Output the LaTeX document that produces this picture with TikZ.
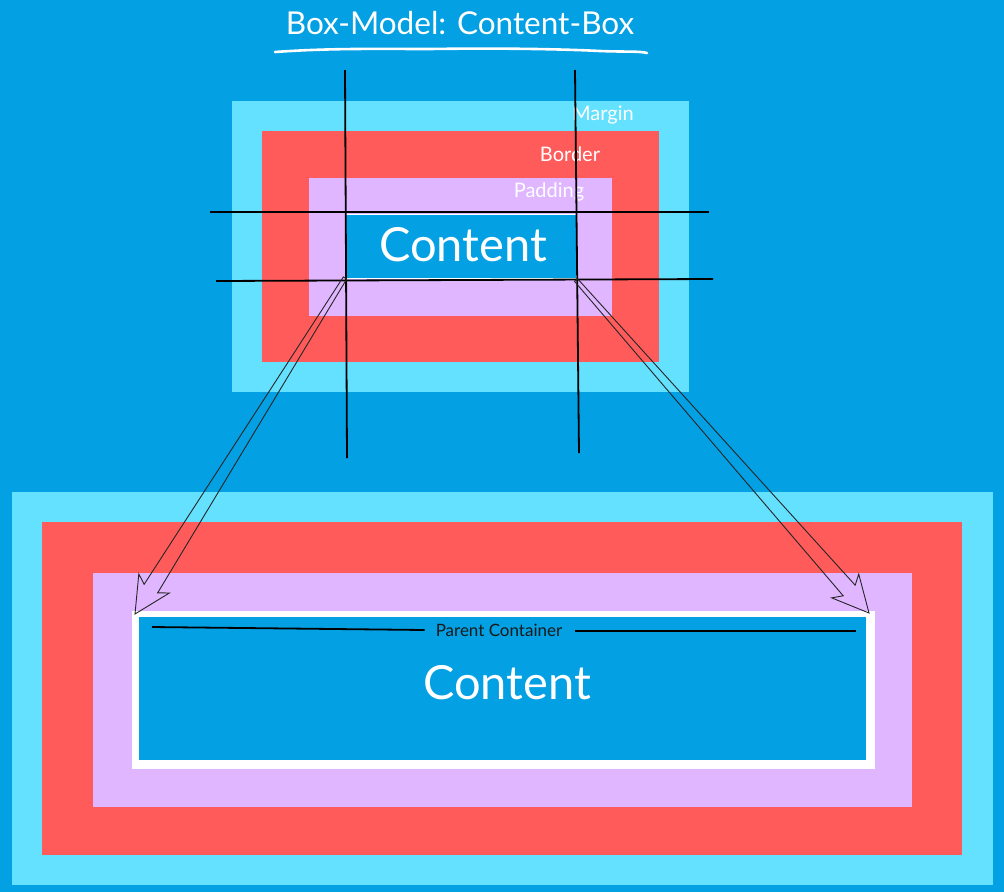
\documentclass[tikz,border=0pt]{standalone}
\usepackage{fontspec}
\setmainfont{Lato}
\usetikzlibrary{calc}
\definecolor{bgblue}{RGB}{3,160,227}
\definecolor{mcyan}{RGB}{99,225,255}
\definecolor{bred}{RGB}{255,91,91}
\definecolor{plav}{RGB}{223,182,255}
\tikzset{
  box/.style={anchor=north west,inner sep=0pt,outer sep=0pt,draw=none},
  hand/.style={draw=black,line width=1.8pt},
  arrowline/.style={draw=black!85,line width=0.9pt,line join=miter},
  lbl/.style={text=white,font=\fontsize{20}{23}\selectfont,inner sep=0pt},
  big/.style={text=white,font=\fontsize{47}{52}\selectfont,inner sep=0pt}
}
\newcommand\hollowarr[2]{%
  \draw[arrowline] ($(#1)!2pt!90:(#2)$)
    -- ($(#2)!30pt!(#1)!8pt!-90:(#1)$)
    -- ($(#2)!36pt!(#1)!18pt!-90:(#1)$)
    -- (#2)
    -- ($(#2)!36pt!(#1)!18pt!90:(#1)$)
    -- ($(#2)!30pt!(#1)!8pt!90:(#1)$)
    -- ($(#1)!2pt!-90:(#2)$) -- cycle;}
\begin{document}
\begin{tikzpicture}[x=1pt,y=-1pt]
\fill[bgblue] (0,0) rectangle (1004,892);
\useasboundingbox (0,0) rectangle (1004,892);
% title
\node[text=white,font=\fontsize{31.5}{36}\selectfont,inner sep=0pt] (title) at (460,23) {Box-Model: Content-Box};
\draw[white,line width=2.6pt,line cap=round] (275,52) .. controls (330,48) and (380,49) .. (430,49)
  .. controls (500,48) and (560,49) .. (600,51) .. controls (625,52) and (640,51) .. (647,53);
% top box
\node[box,fill=mcyan,minimum width=457,minimum height=291] (tmargin) at (232,101) {};
\node[box,fill=bred,minimum width=397,minimum height=231] (tborder) at (262,131) {};
\node[box,fill=plav,minimum width=303,minimum height=138] (tpad) at (309,178) {};
\node[box,fill=bgblue,draw=white,line width=0.8pt,minimum width=231,minimum height=64] (tcontent) at (345,214) {};
\node[lbl] (lmargin) at (603,115) {Margin};
\node[lbl] (lborder) at (570,154) {Border};
\node[lbl] (lpad) at (549,192) {Padding};
\node[big] (tctext) at (463,245) {Content};
% bottom box
\node[box,fill=mcyan,minimum width=981,minimum height=393] (bmargin) at (12,492) {};
\node[box,fill=bred,minimum width=920,minimum height=333] (bborder) at (42,522) {};
\node[box,fill=plav,minimum width=819,minimum height=234] (bpad) at (93,573) {};
\node[box,fill=white,minimum width=743,minimum height=158] (bwhite) at (132,611) {};
\node[box,fill=bgblue,minimum width=727,minimum height=143] (bcontent) at (139,617) {};
\node[big] (bctext) at (507,683) {Content};
\node[text=black!90,font=\fontsize{17}{20}\selectfont,inner sep=0pt] (parent) at (499,630) {Parent Container};
\coordinate (pl) at (152,627);
\coordinate (pr) at (856,631);
\draw[black,line width=1.8pt] (pl) -- ([xshift=-11pt,yshift=0pt]parent.west);
\draw[black,line width=1.8pt] ([xshift=13pt,yshift=-1pt]parent.east) -- (pr);
% hand-drawn guide lines
\coordinate (v1a) at (345,70);  \coordinate (v1b) at (347,458);
\coordinate (v2a) at (575,70);  \coordinate (v2b) at (579,453);
\coordinate (h1a) at (210,212); \coordinate (h1b) at (709,212);
\coordinate (h2a) at (216,281); \coordinate (h2b) at (713,279);
\draw[hand] (v1a) -- (v1b);
\draw[hand] (v2a) -- (v2b);
\draw[hand] (h1a) -- (h1b);
\draw[hand] (h2a) -- (h2b);
% arrows
\coordinate (a1s) at (tcontent.south west);
\coordinate (a1e) at ([xshift=3pt,yshift=-3pt]bwhite.north west);
\coordinate (a2s) at ([yshift=-2pt]tcontent.south east);
\coordinate (a2e) at ([xshift=-6pt,yshift=-2pt]bwhite.north east);
\hollowarr{a1s}{a1e}
\hollowarr{a2s}{a2e}
\end{tikzpicture}
\end{document}
